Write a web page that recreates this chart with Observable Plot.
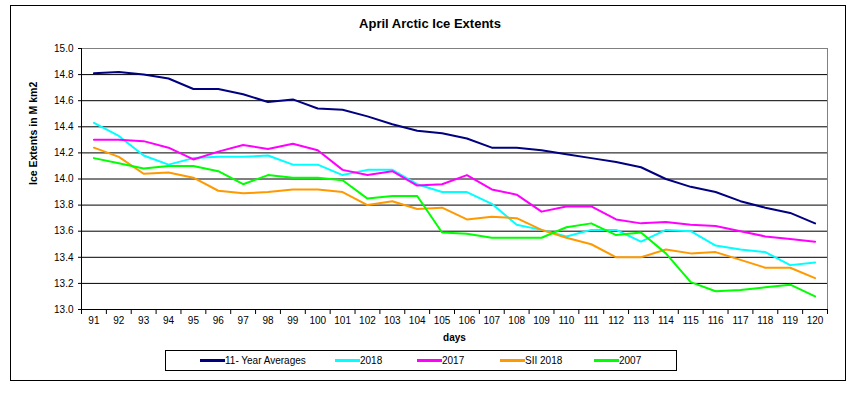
<!DOCTYPE html>
<html>
<head>
<meta charset="utf-8">
<script src="https://cdn.jsdelivr.net/npm/d3@7"></script>
<script src="https://cdn.jsdelivr.net/npm/@observablehq/plot@0.6"></script>
<style>
  html, body { margin: 0; padding: 0; background: #fff; }
  #wrap { position: relative; width: 860px; height: 395px; font-family: "Liberation Sans", Arial, sans-serif; }
  #border { position: absolute; left: 10px; top: 5px; width: 836px; height: 376px; border: 1.5px solid #000; box-sizing: border-box; }
  #title { position: absolute; left: 0; width: 860px; top: 16px; text-align: center; font-weight: bold; font-size: 13px; }
  #chart { position: absolute; left: 0; top: 0; }
  #legend { position: absolute; left: 165px; top: 350px; width: 512px; height: 21px; border: 1px solid #000; box-sizing: border-box; font-size: 10px; }
  .item { position: absolute; top: 0; height: 19px; display: flex; align-items: center; }
  .sw { width: 25px; height: 2.5px; }
</style>
</head>
<body>
<div id="wrap">
  <div id="border"></div>
  <div id="title">April Arctic Ice Extents</div>
  <div id="chart"></div>
  <div id="legend"></div>
</div>
<script>
const days = [91,92,93,94,95,96,97,98,99,100,101,102,103,104,105,106,107,108,109,110,111,112,113,114,115,116,117,118,119,120];
const yTicks = [13.0,13.2,13.4,13.6,13.8,14.0,14.2,14.4,14.6,14.8,15.0];

const avg11 = [14.81,14.82,14.80,14.77,14.69,14.69,14.65,14.59,14.61,14.54,14.53,14.48,14.42,14.37,14.35,14.31,14.24,14.24,14.22,14.19,14.16,14.13,14.09,14.00,13.94,13.90,13.83,13.78,13.74,13.66];
const y2018 = [14.43,14.33,14.18,14.11,14.16,14.17,14.17,14.18,14.11,14.11,14.03,14.07,14.07,13.96,13.90,13.90,13.81,13.65,13.61,13.56,13.61,13.61,13.52,13.61,13.60,13.49,13.46,13.44,13.34,13.36];
const y2017 = [14.30,14.30,14.29,14.24,14.15,14.21,14.26,14.23,14.27,14.22,14.07,14.03,14.06,13.95,13.96,14.03,13.92,13.88,13.75,13.79,13.79,13.69,13.66,13.67,13.65,13.64,13.60,13.56,13.54,13.52];
const sii2018 = [14.24,14.17,14.04,14.05,14.01,13.91,13.89,13.90,13.92,13.92,13.90,13.80,13.83,13.77,13.78,13.69,13.71,13.70,13.61,13.55,13.50,13.40,13.40,13.46,13.43,13.44,13.38,13.32,13.32,13.24];
const y2007 = [14.16,14.12,14.08,14.10,14.10,14.06,13.96,14.03,14.01,14.01,13.99,13.85,13.87,13.87,13.59,13.58,13.55,13.55,13.55,13.63,13.66,13.57,13.59,13.43,13.21,13.14,13.15,13.17,13.19,13.10];

const seriesNames = ["11- Year Averages","2018","2017","SII 2018","2007"];
const seriesValues = [avg11, y2018, y2017, sii2018, y2007];
const seriesColors = ["#000080","#00FFFF","#FF00FF","#FF9900","#00FF00"];

const rows = [];
seriesNames.forEach((name, s) => days.forEach((d, i) => rows.push({series: name, day: d, value: seriesValues[s][i]})));

const xDomain = [days[0] - 0.5, days[days.length - 1] + 0.5];
const boundaries = days.map(d => d - 0.5).concat([xDomain[1]]);
const gridTicks = yTicks.slice(1, -1);

const chart = Plot.plot({
  width: 860,
  height: 350,
  marginLeft: 81,
  marginRight: 33,
  marginTop: 48,
  marginBottom: 41,
  style: {fontFamily: "'Liberation Sans', Arial, sans-serif", fontSize: "10px", color: "#000", background: "transparent", overflow: "visible"},
  x: {type: "linear", domain: xDomain},
  y: {domain: [yTicks[0], yTicks[yTicks.length - 1]]},
  color: {domain: seriesNames, range: seriesColors},
  marks: [
    Plot.gridY(gridTicks, {stroke: "#000", strokeOpacity: 1, strokeWidth: 1}),
    Plot.ruleY([yTicks[yTicks.length - 1]], {stroke: "#808080", strokeWidth: 1}),
    Plot.ruleX([xDomain[1]], {stroke: "#808080", strokeWidth: 1}),
    Plot.ruleX([xDomain[0]], {stroke: "#000", strokeWidth: 1}),
    Plot.ruleY([yTicks[0]], {stroke: "#000", strokeWidth: 1}),
    Plot.line(rows, {x: "day", y: "value", z: "series", stroke: "series", strokeWidth: 2}),
    Plot.axisY(yTicks, {tickSize: 3, tickPadding: 5, tickFormat: d => d.toFixed(1), label: null}),
    Plot.axisX(days, {tickSize: 0, tickPadding: 7, label: null}),
    Plot.axisX(boundaries, {tickSize: 5, tickFormat: () => "", label: null}),
    Plot.text(["Ice Extents in M km2"], {frameAnchor: "left", rotate: -90, dx: -48, dy: 6, text: d => d, fontWeight: "bold", fontSize: 10.5}),
    Plot.text(["days"], {frameAnchor: "bottom", dy: 31, text: d => d, fontWeight: "bold", fontSize: 10})
  ]
});
document.getElementById("chart").appendChild(chart);

const legendX = [34, 169, 251, 334, 428];
const legend = document.getElementById("legend");
seriesNames.forEach((name, i) => {
  const it = document.createElement("div");
  it.className = "item";
  it.style.left = legendX[i] + "px";
  const sw = document.createElement("div");
  sw.className = "sw";
  sw.style.background = seriesColors[i];
  const tx = document.createElement("span");
  tx.textContent = name;
  it.appendChild(sw);
  it.appendChild(tx);
  legend.appendChild(it);
});
</script>
</body>
</html>
